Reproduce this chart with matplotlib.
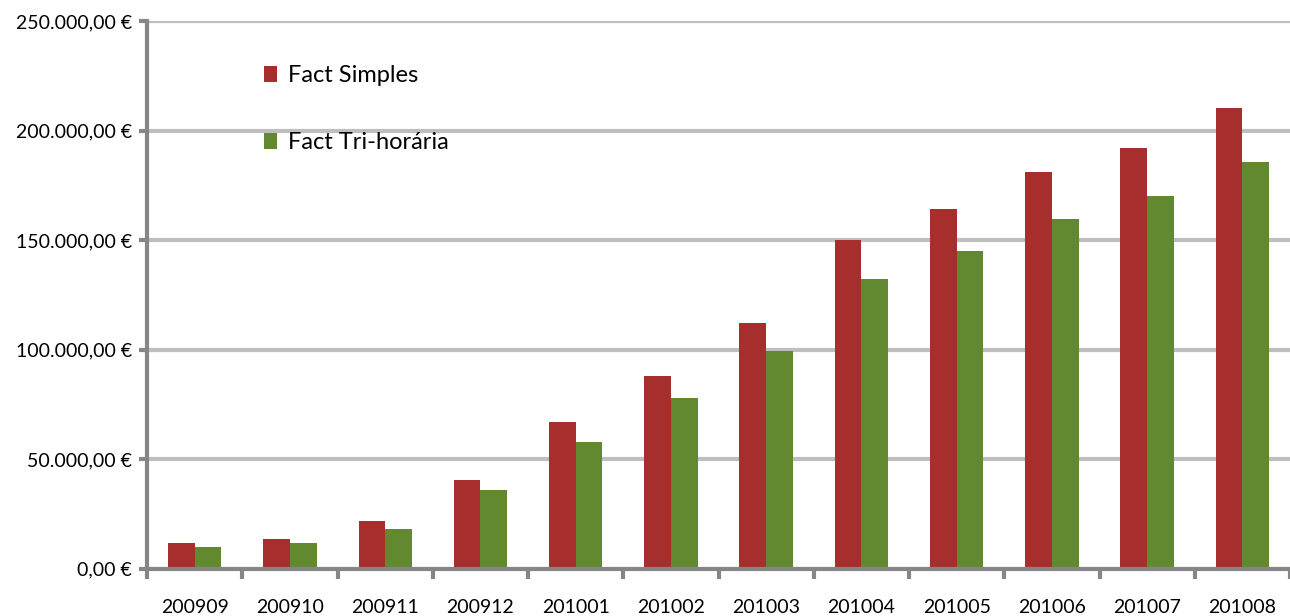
import matplotlib
matplotlib.use("Agg")
import matplotlib.pyplot as plt
import numpy as np
from matplotlib.ticker import FuncFormatter, FixedLocator

plt.rcParams['font.family'] = ['Lato', 'DejaVu Sans']

# monthly invoice totals (EUR)
months = ['200909', '200910', '200911', '200912', '201001', '201002',
          '201003', '201004', '201005', '201006', '201007', '201008']
fact_simples = [11700, 13500, 21900, 40300, 66900, 88000,
                112000, 150000, 164500, 181000, 192000, 210400]
fact_tri = [9900, 11700, 18200, 35800, 57800, 78000,
            99300, 132100, 145200, 159900, 170000, 185600]

red = '#A62F2E'
green = '#638930'
axis_grey = '#868686'
grid_grey = '#BEBEBE'


def euro(v, pos):
    s = f"{v:,.2f}".replace(",", "X").replace(".", ",").replace("X", ".")
    return s + " €"


fig = plt.figure(figsize=(12.9, 6.16), dpi=100)
ax = fig.add_axes([0.114, 0.0768, 0.886, 0.8886])

x = np.arange(len(months))
w = 0.28
ax.bar(x - w / 2, fact_simples, w, color=red, label='Fact Simples', zorder=3)
ax.bar(x + w / 2, fact_tri, w, color=green, label='Fact Tri-horária', zorder=3)

ax.set_xlim(-0.5, len(months) - 0.5)
ax.set_ylim(0, 250000)
ax.set_yticks(np.arange(0, 250001, 50000))
ax.yaxis.set_major_formatter(FuncFormatter(euro))
ax.grid(axis='y', color=grid_grey, linewidth=3, zorder=0)

# category labels centred, tick marks on the boundaries
ax.set_xticks(x)
ax.set_xticklabels(months)
ax.tick_params(axis='x', which='major', length=0, pad=22, labelsize=14)
ax.xaxis.set_minor_locator(FixedLocator(np.arange(-0.5, len(months), 1.0)))
ax.tick_params(axis='x', which='minor', length=7, width=3, color=axis_grey)
ax.tick_params(axis='y', length=6, width=3, color=axis_grey, labelsize=14, pad=5)

for side in ['top', 'right']:
    ax.spines[side].set_visible(False)
for side in ['left', 'bottom']:
    ax.spines[side].set_color(axis_grey)
    ax.spines[side].set_linewidth(3)
    ax.spines[side].set_zorder(4)

ax.legend(loc='upper left', bbox_to_anchor=(0.102, 0.92), frameon=False,
          fontsize=17, labelspacing=1.95, handlelength=0.55, handleheight=0.7,
          handletextpad=0.5, borderpad=0, borderaxespad=0)

fig.savefig('out.png', dpi=100)
